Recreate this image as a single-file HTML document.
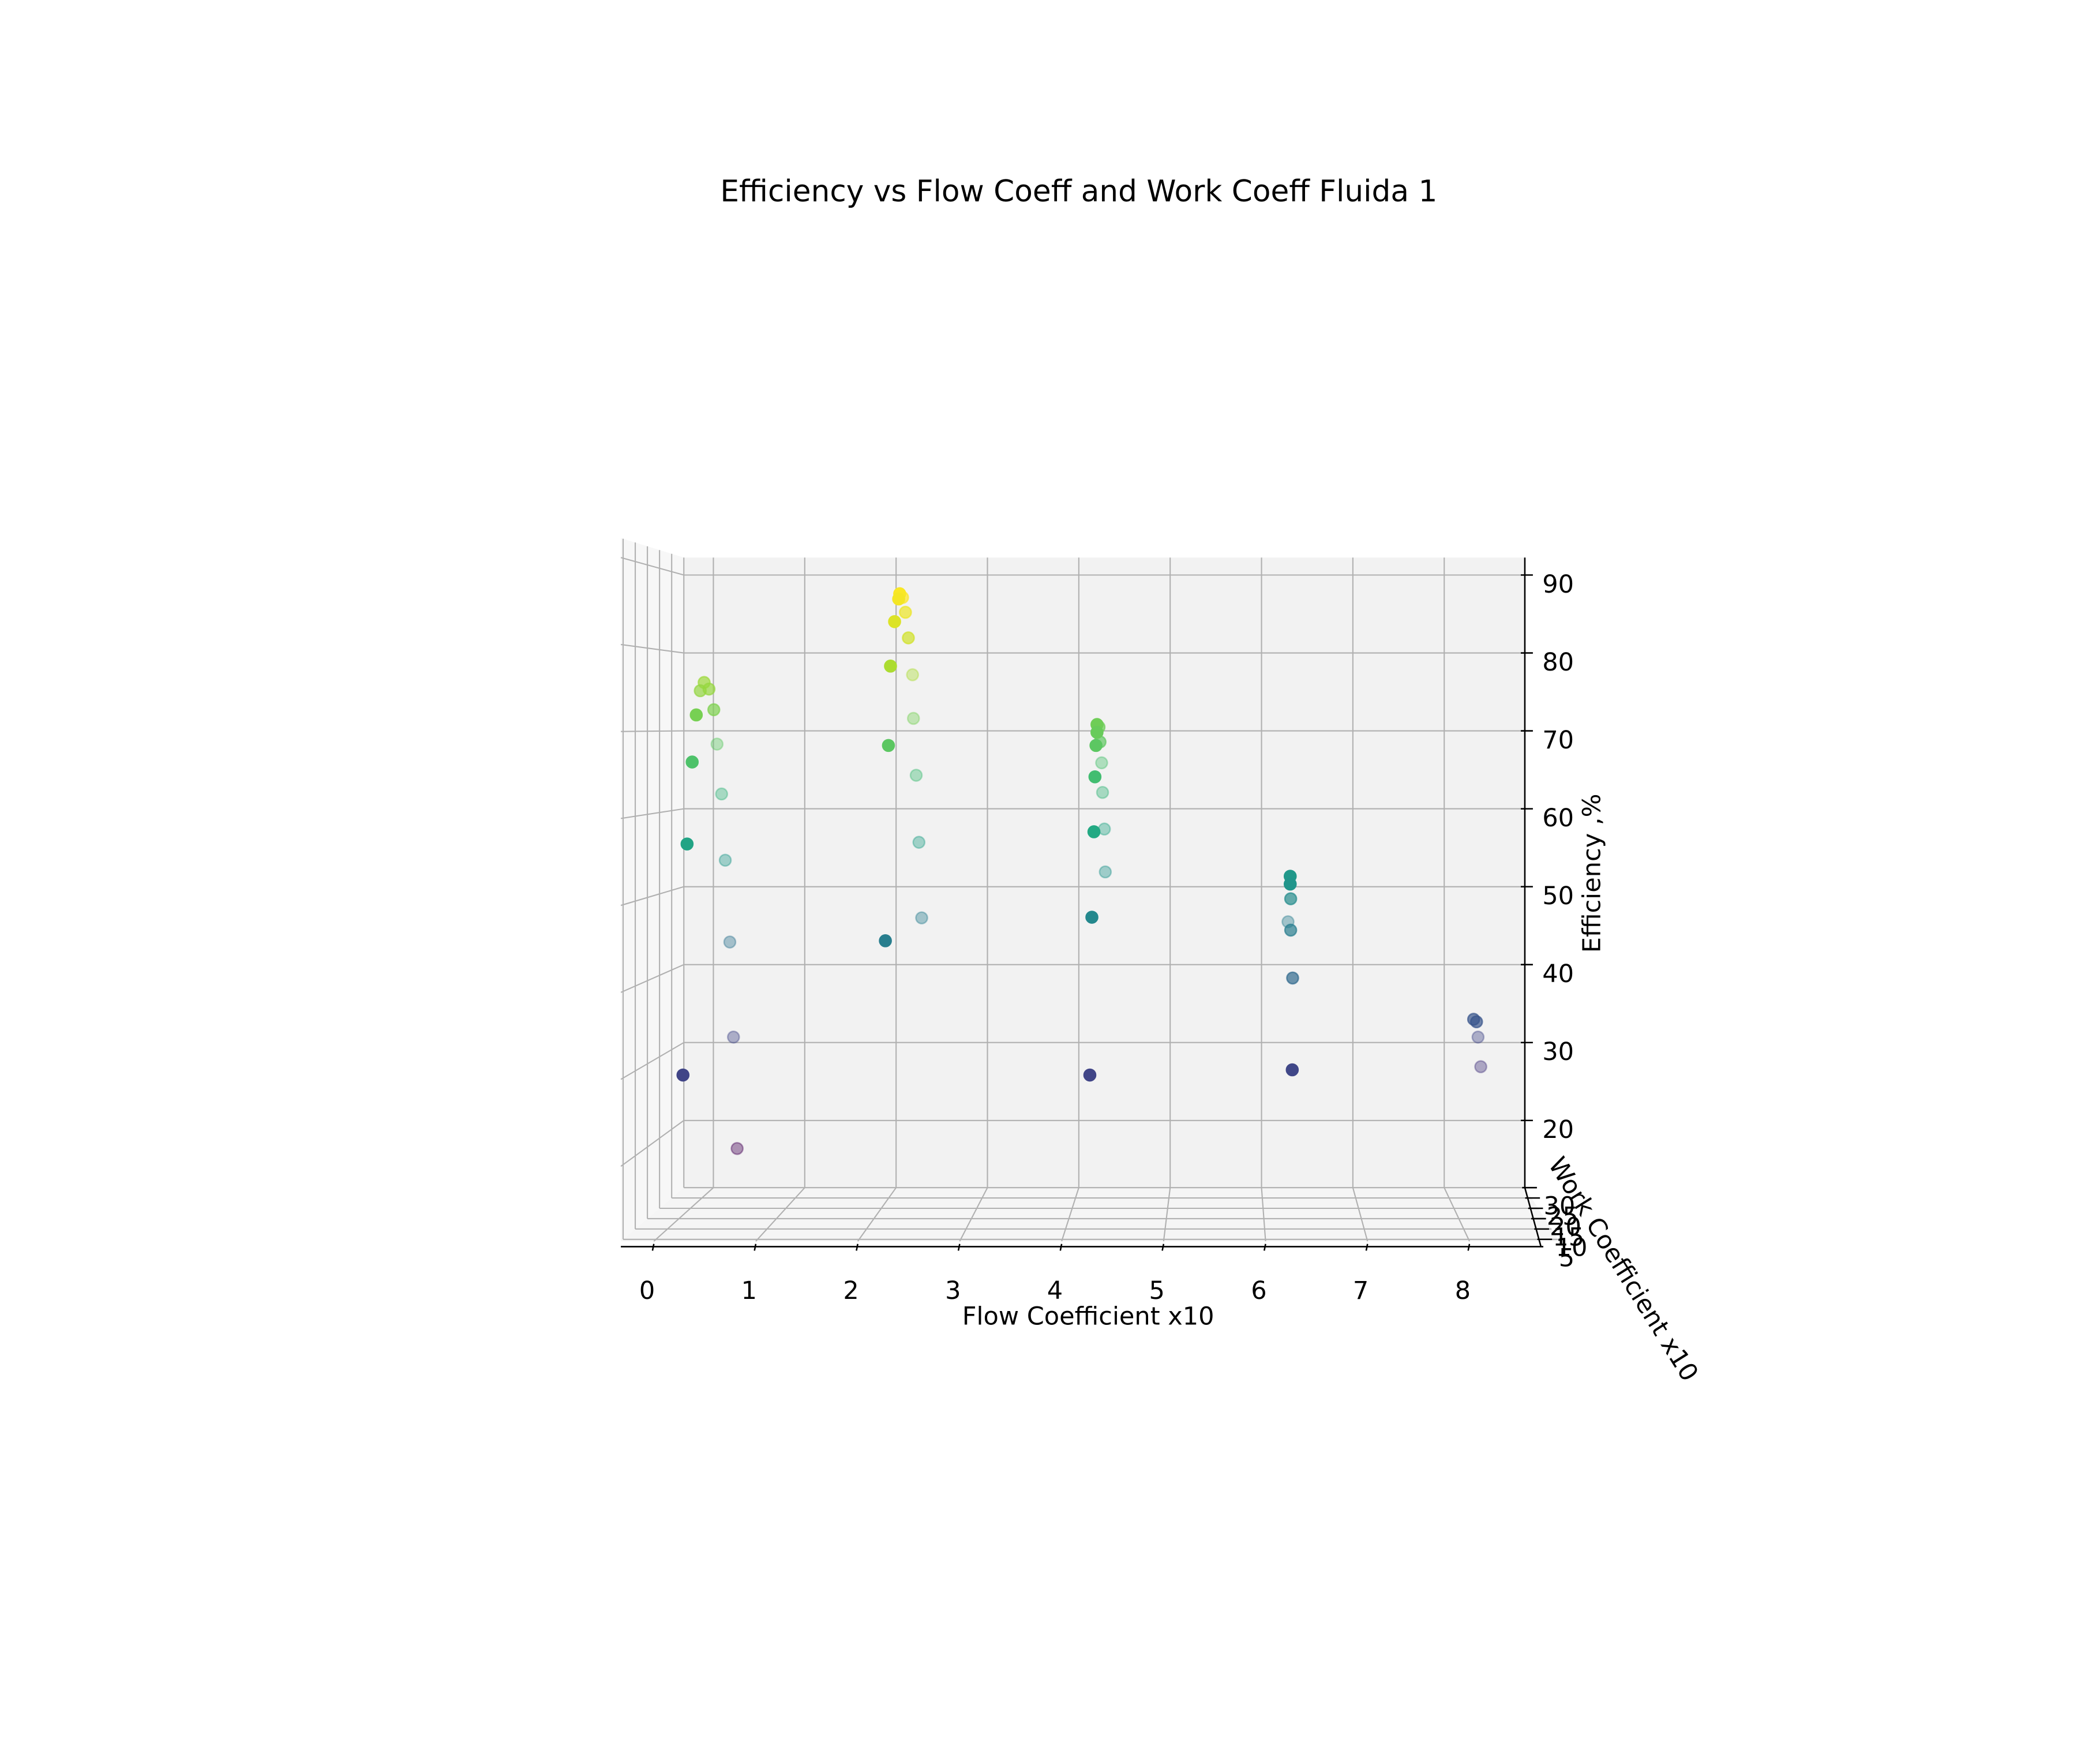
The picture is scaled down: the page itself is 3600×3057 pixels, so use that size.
<!DOCTYPE html>
<html><head><meta charset="utf-8"><style>
html,body{margin:0;padding:0;background:#fff;}
svg{display:block;font-family:"DejaVu Sans","Liberation Sans",sans-serif;}
</style></head><body>
<svg id="chart" width="3600" height="3057" viewBox="0 0 1546 1313" preserveAspectRatio="none" xmlns="http://www.w3.org/2000/svg">
<rect width="1546" height="1313" fill="#fff"/>
<text x="803" y="150" font-size="22.2" text-anchor="middle">Efficiency vs Flow Coeff and Work Coeff Fluida 1</text>
<g id="panes"></g>
<g id="grid"></g>
<g id="axes"></g>
<g id="points"></g>
<text x="810" y="986" font-size="18.5" text-anchor="middle">Flow Coefficient x10</text>
<text transform="translate(1191,650) rotate(-90)" font-size="18.5" text-anchor="middle">Efficiency ,%</text>
<text transform="translate(1203,948) rotate(58)" font-size="18.5" text-anchor="middle">Work Coefficient x10</text>
</svg>
<script>
const flowVals=[0.22,0.18,0.27,0.43,0.32,0.04,0.39,0.09,0.34,0.13,0.18,0.30,0.22,0.26,
2.42,2.41,2.27,2.30,2.37,2.33,2.33,2.18,2.19,2.31,2.22,2.25,2.28,2.28,
4.35,4.30,4.35,4.31,4.34,4.25,4.33,4.26,4.28,4.32,4.29,4.30,4.28,
6.24,6.24,6.28,6.29,6.28,6.30,6.26,
8.17,8.20,8.37,8.40];
const workVals=[17.5,17.5,17.5,5,17.5,30,5,30,5,30,30,5,30,30,
5,5,17.5,17.5,5,17.5,5,30,30,5,30,30,30,5,
5,17.5,5,17.5,5,30,5,30,30,5,30,5,5,
5,5,17.5,30,17.5,17.5,5,
17.5,17.5,30,30];
const effVals=[75.9,74.9,75.1,71.9,72.6,68.3,66.5,61.9,57.1,53.4,42.9,30.6,30.7,16.4,
85.8,85.2,86.2,84.4,82.6,81.3,77.5,77.2,71.6,68.4,64.3,55.7,46.0,46.0,
70.8,70.5,69.9,68.7,68.4,65.9,64.8,62.1,57.4,58.5,51.9,48.7,30.6,
53.4,52.5,49.7,45.5,45.9,40.1,31.2,
35.1,34.8,30.7,26.9];
const flowTicks=[0,1,2,3,4,5,6,7,8];
const effTicks=[90,80,70,60,50,40,30,20];
const workTicks=[30,25,20,15,10,5];

const NS="http://www.w3.org/2000/svg";
const CX=913,CY=540;
function bx(f){return 531+68*f;}
function by(e){return 428+(90-e)*5.8;}
function depth(w){return (30-w)/25;}
function sc(t){return 1+0.119*t;}
function px(x,t){return CX+sc(t)*(x-CX);}
function py(y,t){return CY+sc(t)*(y-CY);}
function mk(tag,attrs,parent){const el=document.createElementNS(NS,tag);for(const k in attrs)el.setAttribute(k,attrs[k]);parent.appendChild(el);return el;}

const panes=document.getElementById('panes');
const grid=document.getElementById('grid');
const axes=document.getElementById('axes');
const TF=0.975;
const L=509,R=1135,T=415,B=884;
let p=mk('polygon',{points:`${L},${T} ${L},${B} ${px(L,TF)},${py(B,TF)} ${px(L,TF)},${py(T,TF)}`,fill:'#f7f7f7'},panes);


p=mk('polygon',{points:`${L},${B} ${R},${B} ${px(R,TF)},${py(B,TF)} ${px(L,TF)},${py(B,TF)}`,fill:'#f5f5f5'},panes);


p=mk('rect',{x:L,y:T,width:R-L,height:B-T,fill:'#f2f2f2'},panes);


const gs={stroke:'#b0b0b0','stroke-width':0.9,fill:'none'};
flowTicks.forEach(f=>{
  const x=bx(f);
  let l=mk('line',Object.assign({x1:x,y1:T,x2:x,y2:B},gs),grid);
  
  
  l=mk('line',Object.assign({x1:x,y1:B,x2:px(x,TF),y2:py(B,TF)},gs),grid);
  
  
});
effTicks.forEach(e=>{
  const y=by(e);
  let l=mk('line',Object.assign({x1:L,y1:y,x2:R,y2:y},gs),grid);
  
  
  l=mk('line',Object.assign({x1:L,y1:y,x2:px(L,TF),y2:py(y,TF)},gs),grid);
  
  
});
workTicks.forEach(w=>{
  const t=depth(w)*0.94;
  let l=mk('line',Object.assign({x1:px(L,t),y1:py(T,t),x2:px(L,t),y2:py(B,t)},gs),grid);
  
  
  l=mk('line',Object.assign({x1:px(L,t),y1:py(B,t),x2:px(R,t),y2:py(B,t)},gs),grid);
  
  
});
const ax={stroke:'#000','stroke-width':1.1,fill:'none'};
const fy=py(B,TF)+4;
let a=mk('line',Object.assign({x1:px(L,TF),y1:fy,x2:px(R,TF)-12,y2:fy},ax),axes);


flowTicks.forEach(f=>{
  const x=px(bx(f),TF);
  let tk=mk('line',Object.assign({x1:x,y1:fy-2,x2:x-1,y2:fy+3},ax),axes);
  
  
  let tx=mk('text',{x:x-5,y:fy+39,'font-size':18.5,'text-anchor':'middle'},axes);
  tx.textContent=f;
  
  
});
a=mk('line',Object.assign({x1:R,y1:T,x2:R,y2:B},ax),axes);


effTicks.forEach(e=>{
  const y=by(e);
  let tk=mk('line',Object.assign({x1:R-3,y1:y,x2:R+6,y2:y},ax),axes);
  
  
  let tx=mk('text',{x:R+13,y:y+13,'font-size':18.5},axes);
  tx.textContent=e;
  
  
});
a=mk('line',Object.assign({x1:R,y1:B,x2:R+12,y2:fy},ax),axes);


workTicks.forEach(w=>{
  const t=depth(w)*0.94;
  const y=py(B,t);const x=R+12*t;
  let tk=mk('line',Object.assign({x1:x-2,y1:y,x2:x+9,y2:y},ax),axes);
  
  
  let tx=mk('text',{x:x+14,y:y+20,'font-size':18.5},axes);
  tx.textContent=w;
  
  
});
const vir=['#440154','#482475','#414487','#355f8d','#2a788e','#21918c','#22a884','#44bf70','#7ad151','#bddf26','#fde725'];
function hx(c){return [1,3,5].map(i=>parseInt(c.substr(i,2),16));}
function viridis(v){v=Math.max(0,Math.min(1,v));const s=v*10,i=Math.min(9,Math.floor(s)),fr=s-i;const a=hx(vir[i]),b=hx(vir[i+1]);return 'rgb('+a.map((c,k)=>Math.round(c+(b[k]-c)*fr)).join(',')+')';}
const emin=Math.min(...effVals),emax=Math.max(...effVals);
const pts=document.getElementById('points');
const idx=effVals.map((_,i)=>i).sort((i,j)=>depth(workVals[i])-depth(workVals[j]));
idx.forEach(i=>{
  const t=depth(workVals[i]);
  const x=px(bx(flowVals[i]),t),y=py(by(effVals[i]),t);
  const col=viridis((effVals[i]-emin)/(emax-emin));
  const al=0.4+0.6*t;
  const c=mk('circle',{cx:x,cy:y,r:4.3,fill:col,'fill-opacity':al,stroke:col,'stroke-opacity':al,'stroke-width':1.1},pts);
  
  
});
</script>
</body></html>
